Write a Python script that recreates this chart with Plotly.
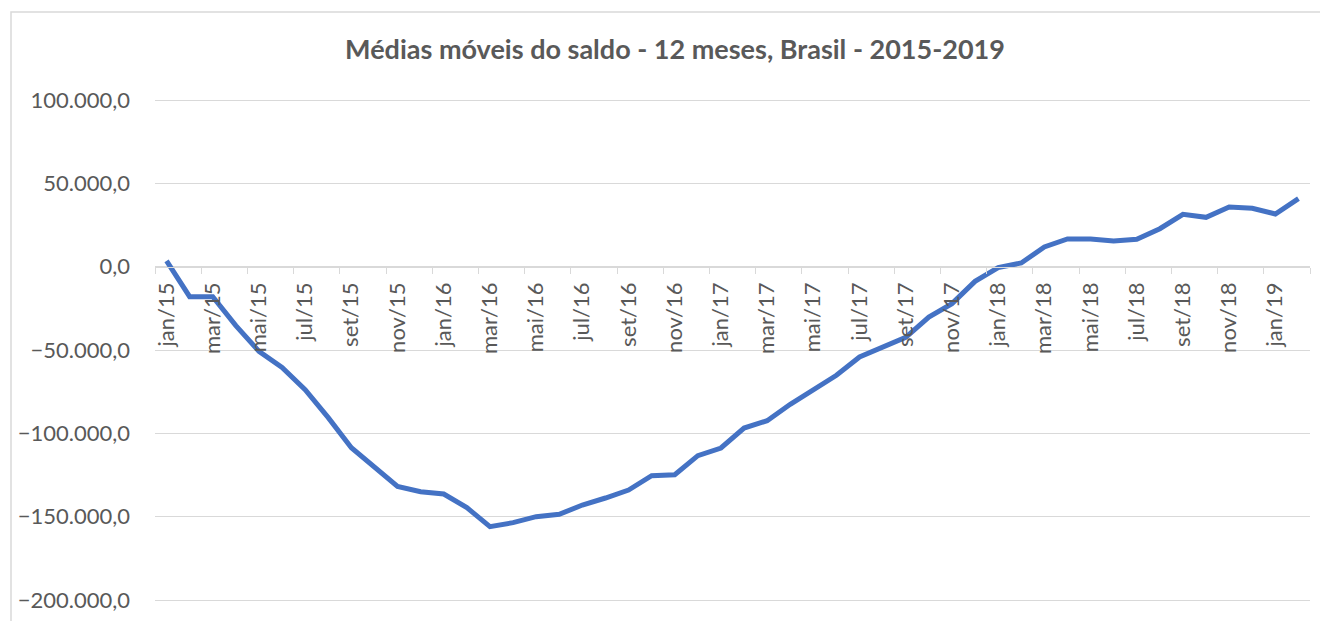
import plotly.graph_objects as go

months = ["jan", "fev", "mar", "abr", "mai", "jun", "jul", "ago", "set", "out", "nov", "dez"]
categories = [f"{m}/{y}" for y in ["15", "16", "17", "18"] for m in months] + ["jan/19", "fev/19"]

values = [
    3500, -18000, -18000, -35400, -50800, -60400, -73800, -90600, -108600, -119800, -131800, -135000,
    -136400, -144600, -156000, -153600, -150000, -148600, -143000, -138800, -134000, -125400, -124800, -113400,
    -108800, -96800, -92400, -82600, -73800, -65200, -54200, -48400, -42400, -30200, -22200, -8800,
    -500, 2200, 11800, 16600, 16600, 15400, 16400, 22800, 31400, 29600, 35800, 35000,
    31600, 40800,
]

title_text = "Médias móveis do saldo - 12 meses, Brasil - 2015-2019"
y_ticks = [100000, 50000, 0, -50000, -100000, -150000, -200000]

GRID = "#d9d9d9"
TXT = "#595959"
FONT = "Lato"

# page body has an 8px margin: compensate so the figure lands at reference positions
OFF = 8
W, H = 1328 - OFF, 621 - OFF
L, T = 155 - OFF, 100 - OFF
R = W - (1310 - OFF)
B = H - (600 - OFF)

# padding so the edge gridlines (100.000 and -200.000) are drawn
PAD = 1800
YMIN, YMAX = -200000 - PAD, 100000 + PAD
px_per_unit = 500 / 300000
pad_px = PAD * px_per_unit
PW = W - L - R
PH = (H - T - B) + 2 * pad_px

fig = go.Figure()
fig.add_trace(go.Scatter(
    x=categories, y=values, mode="lines",
    line=dict(color="#4472C4", width=5),
    hoverinfo="x+y",
))

fig.update_layout(
    width=W, height=H,
    margin=dict(l=L, r=R, t=T - pad_px, b=B - pad_px, autoexpand=False),
    paper_bgcolor="white", plot_bgcolor="white",
    separators=",.",
    showlegend=False,
    font=dict(family=FONT, color=TXT, size=22),
    title=dict(
        text=f"<b>{title_text}</b>",
        x=(675 - OFF) / W, xref="container", xanchor="center",
        y=1 - (50 - OFF) / H, yref="container", yanchor="middle",
        font=dict(family=FONT, size=27, color=TXT),
    ),
    xaxis=dict(
        type="category",
        range=[-0.5, len(categories) - 0.5],
        anchor="free", position=(0 - YMIN) / (YMAX - YMIN),
        showgrid=False, zeroline=False,
        showline=True, linecolor=GRID, linewidth=1,
        ticks="outside", ticklen=6, tickcolor=GRID, tickwidth=1,
        tickson="boundaries",
        dtick=2, tick0=0,
        tickangle=-90,
        ticklabelstandoff=6,
        automargin=False,
        tickfont=dict(family=FONT, size=22, color=TXT),
    ),
    yaxis=dict(
        range=[YMIN, YMAX],
        tickvals=y_ticks,
        tickformat=",.1f",
        showgrid=True, gridcolor=GRID, gridwidth=1,
        zeroline=False, showline=False, ticks="",
        ticklabelstandoff=24,
        automargin=False,
        tickfont=dict(family=FONT, size=22, color=TXT),
    ),
    shapes=[dict(
        type="rect", xref="paper", yref="paper",
        x0=(11 - 155) / PW, x1=(1345 - 155) / PW,
        y0=-0.1, y1=1 + (100 - pad_px - 12) / PH,
        line=dict(color=GRID, width=1.5), fillcolor="rgba(0,0,0,0)",
        layer="below",
    )],
)

fig.write_html("out.html")
